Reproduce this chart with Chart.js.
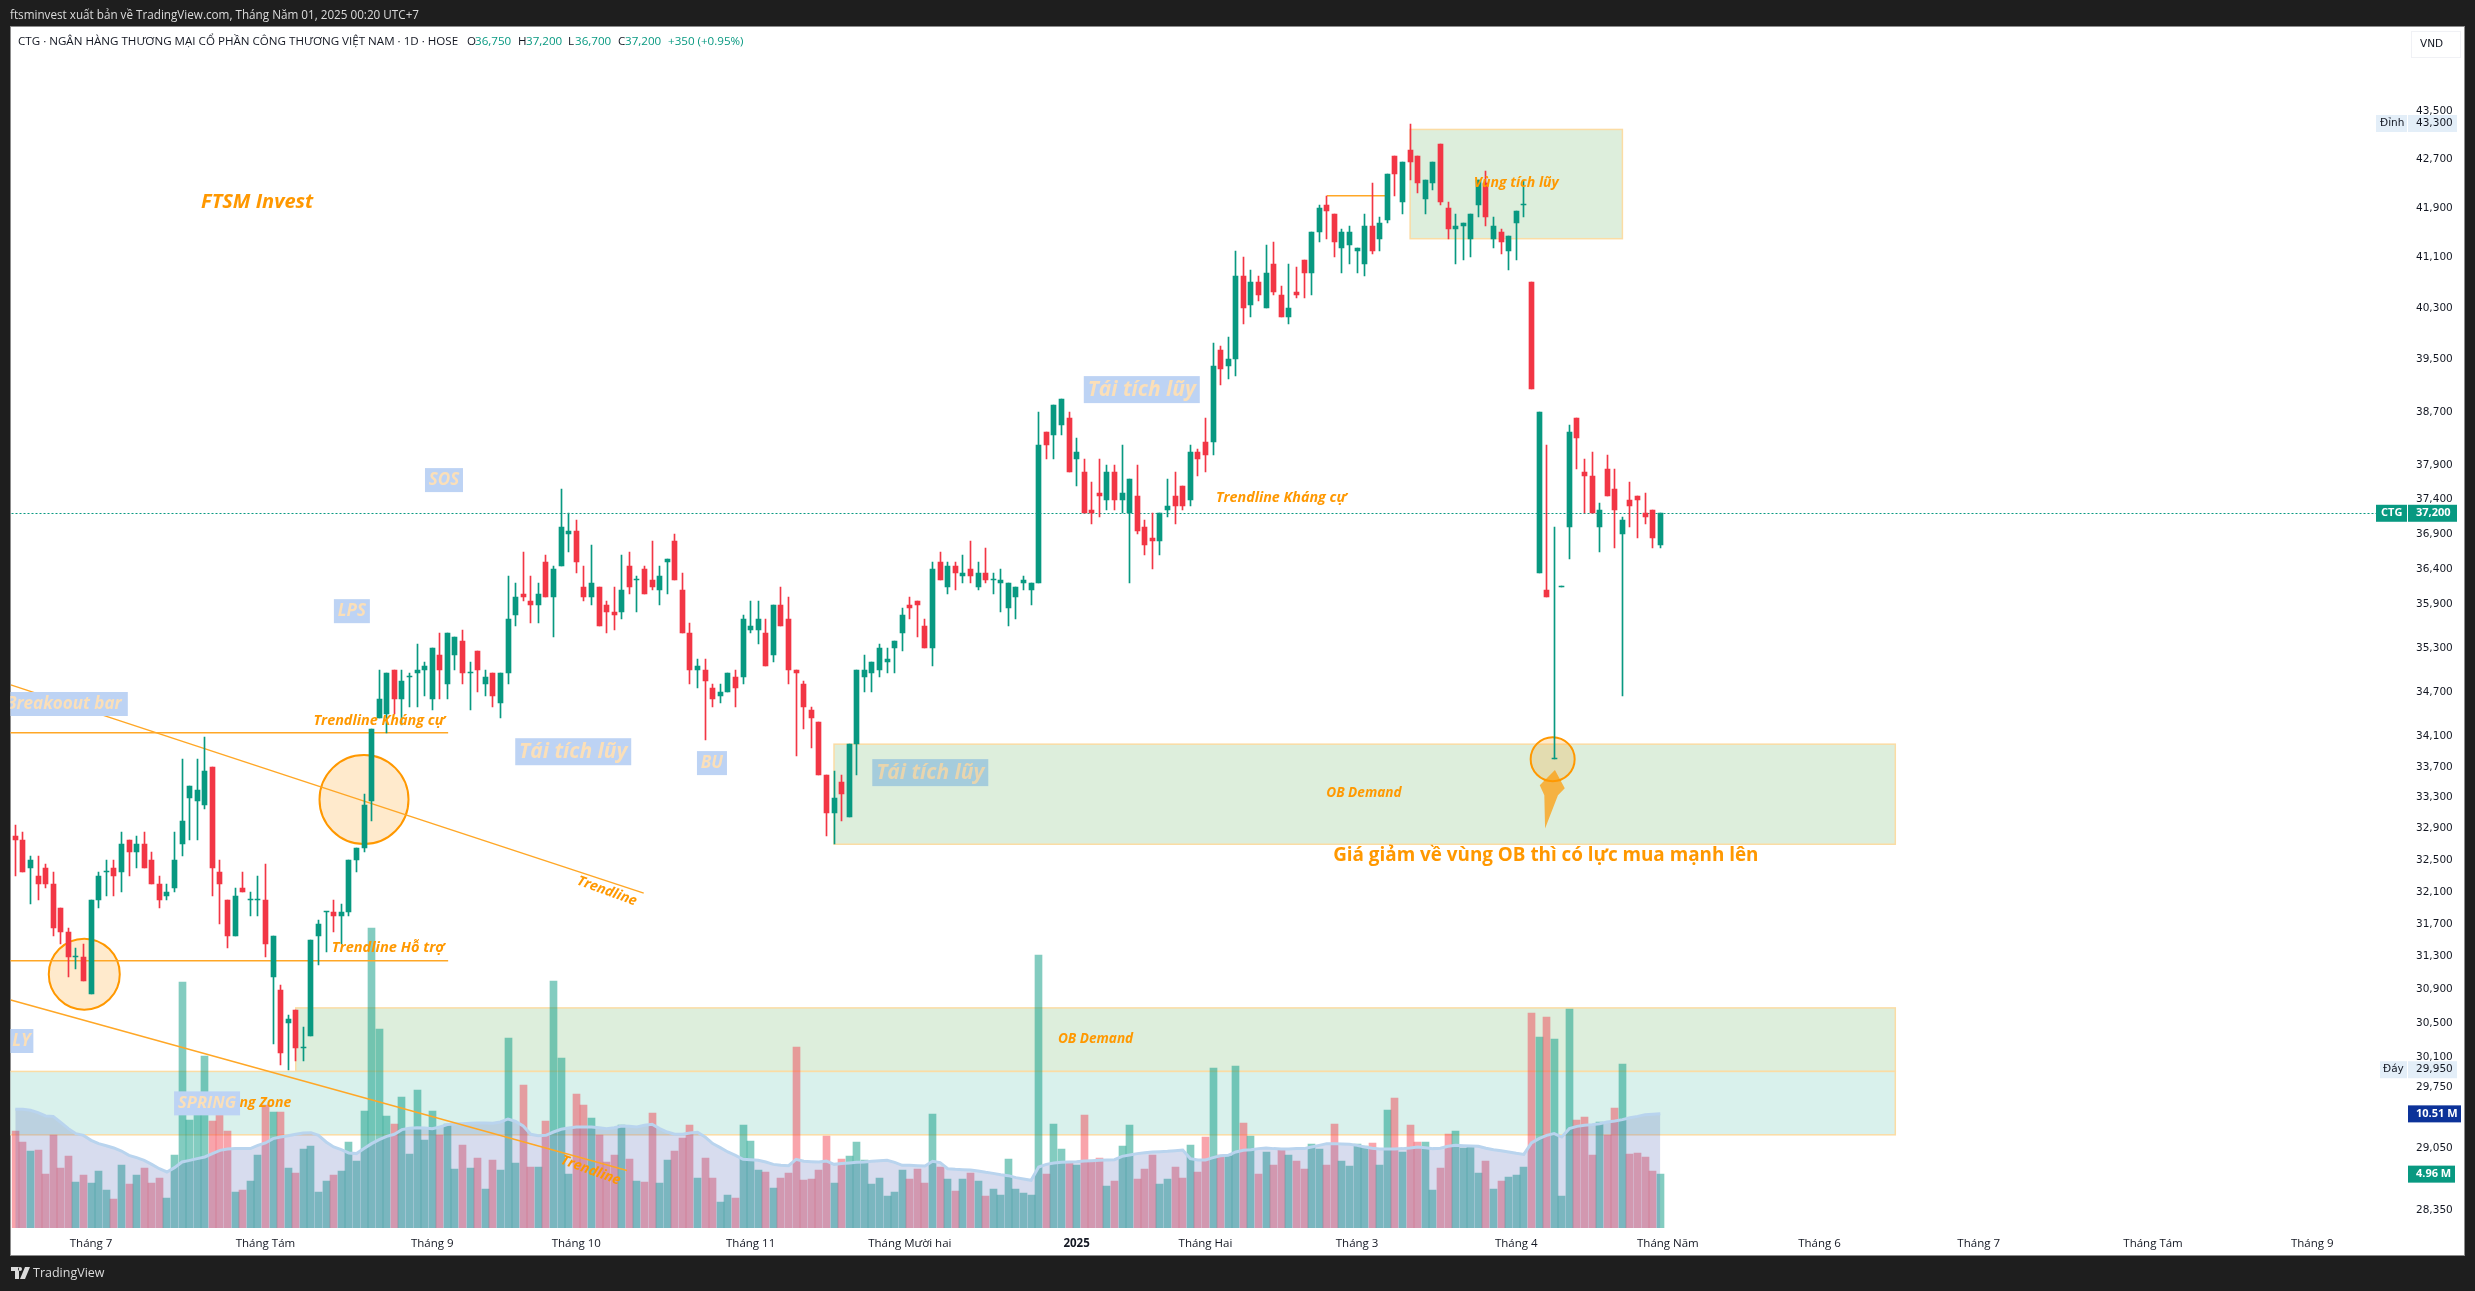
<!DOCTYPE html>
<html>
<head>
<meta charset="utf-8">
<title>CTG</title>
<script src="https://cdn.jsdelivr.net/npm/chart.js@4/dist/chart.umd.min.js"></script>
<style>
    html, body { margin: 0; padding: 0; background: #1e1e1e; width: 2475px; height: 1291px; overflow: hidden; }
    #panel { position: absolute; left: 10px; top: 26px; width: 2453px; height: 1228px; background: #fff; border: 1px solid #8c8c8c; }
    #chart { position: absolute; left: 0; top: 0; }
    .t { position: absolute; white-space: nowrap; font-family: "Open Sans", sans-serif; line-height: 16px; }
    .head { top: 33px; font-size: 11.6px; color: #131722; }
    .val { color: #089981; }
    #publish { left: 10px; top: 6px; font-size: 11.7px; color: #dbdbdb; }
    #brand { left: 33px; top: 1265px; font-size: 12.5px; color: #dbdbdb; }
    #logo { position: absolute; left: 11px; top: 1267px; }
</style>
</head>
<body>
<div id="panel"></div>
<canvas id="chart" width="2475" height="1291"></canvas>
<div class="t" id="publish">ftsminvest xuất bản về TradingView.com, Tháng Năm 01, 2025 00:20 UTC+7</div>
<div class="t head" style="left:18px">CTG · NGÂN HÀNG THƯƠNG MẠI CỔ PHẦN CÔNG THƯƠNG VIỆT NAM · 1D · HOSE</div>
<div class="t head" style="left:467px">O</div><div class="t head val" style="left:475px">36,750</div>
<div class="t head" style="left:518px">H</div><div class="t head val" style="left:526px">37,200</div>
<div class="t head" style="left:568px">L</div><div class="t head val" style="left:575px">36,700</div>
<div class="t head" style="left:618px">C</div><div class="t head val" style="left:625px">37,200</div>
<div class="t head val" style="left:668px">+350 (+0.95%)</div>
<svg id="logo" width="19" height="12" viewBox="0 0 19 12"><path fill="#dbdbdb" d="M0 0h8v12H4V4H0zM9 4a2 2 0 1 0 0-4 2 2 0 0 0 0 4zM14 0h5l-5 12H9z"/></svg>
<div class="t" id="brand">TradingView</div>
<script>
const opens = [
    32800,32750,32400,32300,32400,32200,31900,31600,31300,31300,
    30850,32000,32350,32400,32350,32750,32600,32700,32500,32200,
    32050,32150,32700,33300,33250,33200,33700,32350,32000,31550,
    32150,32000,32000,32000,31050,30900,30500,30650,30200,30350,
    31550,31850,31850,31800,31850,32500,32650,33250,34350,34400,
    35000,34600,34900,34950,35000,34600,35200,34800,35200,35400,
    34950,35250,34800,34950,34550,34950,35750,36050,35950,35900,
    36500,36000,36450,36900,36950,36150,36000,36150,35900,35800,
    35800,36450,36250,36400,36250,36100,36500,36800,36100,35500,
    35000,35000,34750,34650,34700,34900,34900,35550,35550,35500,
    35200,35900,35700,35000,34800,34450,34300,33600,33100,33500,
    33050,34000,34900,34950,35000,35100,35300,35500,35900,35950,
    35600,35300,36500,36150,36450,36300,36400,36150,36350,36250,
    36200,35850,36000,36200,36100,36200,38400,38350,38500,38600,
    38000,37800,37250,37500,37400,37800,37400,37200,37450,37000,
    36850,36800,37250,37450,37600,37400,38100,38250,38250,39650,
    39400,39500,40800,40350,40700,40300,41000,40500,40150,40550,
    41050,40850,41500,41950,41800,41250,41300,41200,41000,41600,
    41400,41700,42750,42000,42850,42750,42050,42300,42950,41900,
    41550,41600,41400,41950,42300,41400,41500,41200,41650,41950,
    40700,36350,36100,33800,36150,37000,38600,37800,37750,37000,
    37850,37550,36900,37400,37450,37200,37250,36750
];
const closes = [
    32750,32350,32500,32200,32200,31650,31600,31300,31300,31000,
    32000,32300,32350,32300,32700,32600,32700,32400,32200,32000,
    32100,32500,33000,33450,33400,33650,32400,32200,31550,32050,
    32100,32000,32000,31450,31550,30150,30550,30200,30200,31500,
    31700,31850,31800,31850,32500,32650,33200,34200,34600,34950,
    34600,34850,34900,35000,35050,35300,35000,35500,35450,34950,
    34950,35000,34900,34650,34950,35700,36000,36000,35900,36050,
    36000,36400,37000,36950,36500,36000,36200,35600,35800,35750,
    36100,36150,36250,36050,36150,36300,36550,36250,35500,35000,
    35050,34850,34600,34700,34950,34750,35700,35600,35700,35050,
    35900,35600,35000,34950,34500,34350,33600,33100,33300,33350,
    34000,35000,35000,35100,35300,35150,35400,35750,35850,35900,
    35300,36400,36250,36450,36350,36350,36300,36350,36250,36250,
    36250,36200,36150,36250,36200,38200,38200,38800,38900,37800,
    38100,37200,37200,37450,37800,37400,37500,37700,36950,36750,
    36800,37200,37300,37300,37300,38100,38000,38050,39400,39350,
    39500,40800,40300,40700,40500,40850,40550,40150,40300,40500,
    40850,41500,41900,41850,41350,41500,41500,41250,41600,41200,
    41650,42450,42450,42650,42650,42300,42350,42650,42000,41550,
    41600,41650,41800,42350,41750,41600,41350,41450,41850,41950,
    39050,38700,36000,33800,36150,38400,38300,37750,37200,37250,
    37450,37250,37100,37300,37400,37150,36850,37200
];
const highs = [
    32950,32850,32550,32550,32450,32350,31900,31650,31400,31450,
    32000,32350,32500,32500,32850,32750,32800,32850,32600,32300,
    32200,32850,33800,33450,33800,34100,33700,32500,32000,32150,
    32350,32100,32300,32450,31550,30950,30600,30650,30450,31500,
    31750,31850,32000,31950,32500,32650,33350,34200,35000,34950,
    35000,35000,34950,35350,35100,35300,35500,35500,35450,35550,
    35100,35250,35000,34950,34950,36300,36200,36650,36300,36200,
    36600,36450,37550,37200,37100,36450,36750,36150,35950,36150,
    36600,36650,36300,36450,36800,36450,36550,36900,36350,35650,
    35150,35150,34800,34800,34950,35000,35750,35950,35950,35700,
    35900,36150,36000,35000,34850,34500,34300,33600,33650,33600,
    34000,35000,35200,35100,35350,35300,35400,35850,36000,35950,
    35700,36500,36650,36500,36500,36600,36800,36500,36700,36350,
    36400,36200,36150,36300,36200,38700,38400,38800,38900,38700,
    38300,38000,37650,38000,37900,37900,38200,37700,37900,37100,
    37200,37200,37700,37800,37600,38200,38150,38600,39750,39700,
    39850,41200,41100,40900,40800,41300,41350,40650,41000,40950,
    41050,41500,41950,42100,41800,41550,41600,41250,41800,42300,
    41750,42450,42750,42650,43300,42750,42350,42650,42950,42000,
    41800,41650,41800,42350,42500,41750,41550,41450,41850,42350,
    40700,38700,38200,37000,36150,38500,38600,38000,38100,37350,
    38050,37850,37150,37650,37450,37500,37250,37200
];
const lows = [
    32300,32350,31950,32000,32150,31550,31450,31050,31150,31000,
    30850,31900,32050,32050,32100,32300,32400,32400,32200,31900,
    32000,32100,32550,32750,32750,33150,32050,31700,31400,31550,
    32100,31800,31800,31300,30250,30000,29950,30050,30050,30350,
    31200,31350,31600,31450,31800,32350,32600,33000,34350,34150,
    34400,34250,34500,34500,34650,34450,34600,34600,35000,34800,
    34450,34700,34650,34500,34350,34800,35600,35950,35650,35650,
    36000,35450,36450,36650,36350,35950,35900,35600,35500,35550,
    35700,36050,35800,36050,36100,35900,36050,36250,35500,34800,
    34750,34050,34500,34550,34700,34500,34800,35500,35350,35050,
    35100,35600,34800,33850,34200,33950,33600,32800,32700,33000,
    33050,33600,34700,34700,34900,34950,34950,35250,35700,35450,
    35300,35050,36250,36050,36100,36200,36200,36100,36200,36050,
    35800,35600,35700,36100,35900,36200,38000,38000,38350,37800,
    37600,37200,37050,37150,37250,37250,37200,36200,36900,36600,
    36400,36600,37150,37050,37250,37300,37750,37800,38050,39100,
    39200,39250,40050,40150,40400,40300,40500,40150,40050,40450,
    40450,40500,41350,41400,41100,40850,41000,40850,40800,41150,
    41200,41650,42100,41800,42350,42150,41800,42200,41950,41400,
    41000,41050,41100,41750,41600,41250,41150,40900,41050,41750,
    39050,36350,36000,33800,36150,36550,37850,37200,37200,36650,
    37450,36700,34650,37000,36850,37050,36700,36700
];
// volume, millions
const volumes = [
    8.90,7.89,7.06,7.15,4.94,8.57,5.50,6.60,4.21,4.85,
    4.11,5.22,3.47,2.64,5.77,4.02,4.85,5.50,4.11,4.57,
    2.73,6.69,22.63,9.92,10.38,15.81,9.82,10.38,8.90,3.28,
    3.47,4.30,6.69,11.30,10.65,10.65,5.50,5.03,7.25,7.52,
    3.28,4.30,4.85,5.22,7.89,6.14,10.75,27.60,18.30,10.28,
    9.55,12.03,6.78,12.68,8.07,10.75,8.53,9.55,5.40,7.61,
    5.50,6.42,3.56,6.23,5.31,17.47,5.96,13.14,5.59,5.59,
    9.82,22.72,15.63,4.94,12.31,11.30,10.10,8.53,6.08,6.69,
    9.46,6.32,4.30,4.21,10.56,4.11,6.23,7.06,8.26,9.46,
    4.57,6.42,4.57,2.36,3.01,2.73,9.46,7.98,5.31,5.13,
    3.65,4.57,5.03,16.64,4.39,4.48,5.31,8.44,4.11,6.32,
    6.60,7.89,6.23,4.02,4.57,2.92,3.28,5.31,4.48,5.40,
    4.11,10.47,5.59,4.48,3.38,4.48,5.03,4.30,2.92,3.56,
    3.01,6.32,3.56,3.19,3.01,25.11,4.94,9.55,7.25,6.05,
    5.77,10.38,6.05,6.42,3.84,4.30,7.52,9.46,4.48,5.40,
    6.69,4.02,4.48,5.59,4.57,7.61,5.13,8.35,14.71,6.69,
    6.60,14.89,9.64,8.44,4.94,6.97,5.77,7.15,6.69,6.14,
    5.40,7.71,7.25,5.77,9.55,6.14,5.68,7.71,7.52,7.80,
    5.77,10.84,11.94,6.97,9.46,7.89,7.89,3.47,5.50,8.63,
    8.90,7.34,7.52,5.03,6.14,3.56,4.30,4.67,4.85,5.59,
    19.77,17.56,19.40,17.38,2.92,20.14,9.92,10.19,6.69,9.73,
    8.60,11.02,15.07,6.78,6.88,6.51,5.22,4.96
];
const volumeAverage = [
    10.93,10.93,10.84,10.62,10.32,10.28,9.73,9.15,8.69,8.53,
    8.07,7.77,7.58,7.37,7.09,6.69,6.48,6.23,5.86,5.46,
    5.16,5.56,6.08,6.23,6.39,6.54,6.85,7.15,7.28,7.31,
    7.31,7.31,7.61,7.83,8.23,8.38,8.50,8.63,8.75,8.78,
    8.53,7.92,7.46,7.21,6.91,6.85,7.31,7.77,8.14,8.44,
    8.63,9.06,9.18,9.24,9.21,9.15,9.30,9.52,9.58,9.61,
    9.64,9.67,9.67,9.64,9.76,10.04,9.82,9.39,8.63,8.50,
    8.53,8.84,9.09,9.21,9.30,9.30,9.30,9.24,9.15,9.24,
    9.39,9.36,9.30,9.46,9.55,9.15,8.84,8.63,8.63,8.75,
    8.81,8.38,7.77,7.40,7.00,6.69,6.32,6.29,6.23,6.08,
    5.86,5.77,5.74,6.32,6.14,6.11,6.08,6.17,5.86,5.93,
    5.99,6.05,6.08,6.14,6.20,6.23,6.05,5.77,5.77,5.74,
    5.71,6.14,6.02,5.46,5.40,5.37,5.34,5.25,5.13,5.03,
    4.91,4.82,4.64,4.51,4.39,5.62,5.86,5.99,6.05,6.08,
    6.11,6.17,6.20,6.23,6.26,6.29,6.60,6.72,6.85,6.94,
    7.00,7.03,7.06,7.12,7.18,6.39,6.26,6.26,6.48,6.66,
    6.69,7.00,7.15,7.21,7.31,7.37,7.31,7.28,7.28,7.31,
    7.31,7.46,7.61,7.77,7.77,7.74,7.71,7.61,7.46,7.34,
    7.28,7.28,7.28,7.31,7.37,7.46,7.40,7.31,7.34,7.52,
    7.61,7.58,7.55,7.52,7.34,7.21,7.12,7.00,6.88,6.78,
    7.83,8.23,8.53,8.69,8.38,9.15,9.36,9.46,9.52,9.61,
    9.76,9.85,9.98,10.16,10.28,10.44,10.47,10.51
];
const monthLabels = ['Tháng 7', 'Tháng Tám', 'Tháng 9', 'Tháng 10', 'Tháng 11', 'Tháng Mười hai', '2025', 'Tháng Hai', 'Tháng 3', 'Tháng 4', 'Tháng Năm', 'Tháng 6', 'Tháng 7', 'Tháng Tám', 'Tháng 9'];
const monthBars = [10, 33, 55, 74, 97, 118, 140, 157, 177, 198, 218, 238, 259, 282, 303];
const priceTicks = [43500, 42700, 41900, 41100, 40300, 39500, 38700, 37900, 37400, 36900, 36400, 35900, 35300, 34700, 34100, 33700, 33300, 32900, 32500, 32100, 31700, 31300, 30900, 30500, 30100, 29750, 29050, 28350];
const slotCount = 316;

const GREEN = '#089981';
const RED = '#f23645';
const ORANGE = '#ff9800';

const categories = [];
for (let i = 0; i < slotCount; i++) {
    const m = monthBars.indexOf(i);
    categories.push(m >= 0 ? monthLabels[m] : '');
}
const up = closes.map((c, i) => c >= opens[i]);

// drawings on the chart, in bar index and price
const zones = [
    { x0: 108, x1: 248, p0: 34000, p1: 32700, fill: '#ddeedc' },
    { x0: 184, x1: 212, p0: 43200, p1: 41400, fill: '#ddeedc' },
    { x0: 37, x1: 248, p0: 30680, p1: 29930, fill: '#ddeedc' },
    { x0: -2, x1: 248, p0: 29930, p1: 29200, fill: '#d9f1ec' }
];
const lines = [
    [-0.6, 34794, 82.9, 32083],
    [-0.6, 30775, 80.7, 28797],
    [-1, 34150, 57.1, 34150],
    [-1, 31250, 57.1, 31250],
    [173, 42100, 180.7, 42100]
];
const circles = [[9.1, 31086, 35.5], [46, 33274, 44.5], [202.8, 33802, 22]];
const arrow = [[203.1, 33658], [204.4, 33422], [203.5, 33330], [201.8, 32900], [201.7, 33330], [201.1, 33461]];
const boxLabels = [
    { t: 'SOS', x: 56.55, p: 37684, w: 38, h: 24, size: 17 },
    { t: 'LPS', x: 44.4, p: 35808, w: 36, h: 24, size: 17 },
    { t: 'Breakoout bar', x: 6.4, p: 34536, w: 128, h: 24, size: 17 },
    { t: 'Tái tích lũy', x: 73.6, p: 33900, w: 116, h: 27, size: 21 },
    { t: 'BU', x: 91.9, p: 33750, w: 30, h: 24, size: 17 },
    { t: 'Tái tích lũy', x: 120.7, p: 33625, w: 116, h: 27, size: 21, faded: true },
    { t: 'Tái tích lũy', x: 148.6, p: 39036, w: 116, h: 27, size: 21 },
    { t: 'LY', x: 0.8, p: 30287, w: 24, h: 24, size: 17 },
    { t: 'SPRING', x: 25.3, p: 29560, w: 66, h: 24, size: 16.5 }
];
const notes = [
    { t: 'FTSM Invest', x: 31.9, p: 41990, size: 20 },
    { t: 'Spring Zone', x: 36.4, p: 29560, size: 14, align: 'right' },
    { t: 'Trendline Kháng cự', x: 48, p: 34309, size: 14.4 },
    { t: 'Trendline', x: 78.05, p: 32108, size: 14, angle: 20 },
    { t: 'Trendline Hỗ trợ', x: 49.2, p: 31405, size: 14.6 },
    { t: 'Trendline', x: 75.9, p: 28797, size: 14, angle: 20 },
    { t: 'OB Demand', x: 177.9, p: 33357, size: 13.6 },
    { t: 'OB Demand', x: 142.5, p: 30311, size: 13.6 },
    { t: 'Vùng tích lũy', x: 198, p: 42312, size: 14 },
    { t: 'Trendline Kháng cự', x: 167, p: 37419, size: 14.3 },
    { t: 'Giá giảm về vùng OB thì có lực mua mạnh lên', x: 201.9, p: 32549, size: 18.85, italic: false }
];

const drawings = {
    id: 'drawings',
    // snap bars to whole pixels so bodies and wicks stay crisp
    afterDatasetsUpdate(chart) {
        chart.data.datasets.forEach((ds, i) => {
            if (ds.type === 'line') return;
            chart.getDatasetMeta(i).data.forEach(el => {
                el.x = Math.round(el.x - 0.5) + 0.5;
                el.y = Math.round(el.y);
                el.base = Math.round(el.base);
                if (el.y === el.base) el.base = el.y + 1;
            });
        });
    },
    beforeDatasetsDraw(chart) {
        const { ctx, chartArea: a, scales: { x, y } } = chart;
        ctx.save();
        ctx.beginPath();
        ctx.rect(a.left - 1, a.top, a.width + 1, a.height);
        ctx.clip();
        zones.forEach(z => {
            const l = x.getPixelForValue(z.x0), r = x.getPixelForValue(z.x1);
            const t = y.getPixelForValue(z.p0), b = y.getPixelForValue(z.p1);
            ctx.fillStyle = z.fill;
            ctx.fillRect(l, t, r - l, b - t);
            ctx.strokeStyle = '#fbdca4';
            ctx.lineWidth = 1.5;
            ctx.strokeRect(l, t, r - l, b - t);
        });
        ctx.restore();
    },
    beforeDatasetDraw(chart, args) {
        if (args.index !== 2) return;
        const { ctx, chartArea: a, scales: { x, y } } = chart;
        ctx.save();
        ctx.beginPath();
        ctx.rect(a.left - 1, a.top, a.width + 1, a.height);
        ctx.clip();
        // last price line
        ctx.strokeStyle = GREEN;
        ctx.lineWidth = 1;
        ctx.setLineDash([2, 2]);
        const py = Math.round(y.getPixelForValue(closes[closes.length - 1])) + 0.5;
        ctx.beginPath();
        ctx.moveTo(a.left, py);
        ctx.lineTo(a.right, py);
        ctx.stroke();
        ctx.setLineDash([]);
        circles.forEach(c => {
            ctx.beginPath();
            ctx.arc(x.getPixelForValue(c[0]), y.getPixelForValue(c[1]), c[2], 0, Math.PI * 2);
            ctx.fillStyle = 'rgba(255,152,0,0.2)';
            ctx.fill();
            ctx.strokeStyle = ORANGE;
            ctx.lineWidth = 2;
            ctx.stroke();
        });
        ctx.strokeStyle = '#ffa726';
        ctx.lineWidth = 1.5;
        lines.forEach(l => {
            ctx.beginPath();
            ctx.moveTo(x.getPixelForValue(l[0]), y.getPixelForValue(l[1]));
            ctx.lineTo(x.getPixelForValue(l[2]), y.getPixelForValue(l[3]));
            ctx.stroke();
        });
        ctx.beginPath();
        arrow.forEach((pt, i) => {
            const px = x.getPixelForValue(pt[0]), ppy = y.getPixelForValue(pt[1]);
            if (i === 0) ctx.moveTo(px, ppy); else ctx.lineTo(px, ppy);
        });
        ctx.closePath();
        ctx.fillStyle = 'rgba(255,152,0,0.7)';
        ctx.fill();
        ctx.restore();
    },
    afterDatasetsDraw(chart) {
        const { ctx, chartArea: a, scales: { x, y, vol } } = chart;
        ctx.save();
        ctx.beginPath();
        ctx.rect(a.left - 1, a.top, a.width + 1, a.height);
        ctx.clip();
        ctx.textBaseline = 'middle';
        notes.forEach(n => {
            const italic = n.italic === false ? '' : 'italic ';
            ctx.font = italic + 'bold ' + n.size + 'px "Open Sans"';
            ctx.fillStyle = ORANGE;
            ctx.textAlign = n.align || 'center';
            ctx.save();
            ctx.translate(x.getPixelForValue(n.x), y.getPixelForValue(n.p));
            if (n.angle) ctx.rotate(n.angle * Math.PI / 180);
            ctx.fillText(n.t, 0, 0);
            ctx.restore();
        });
        boxLabels.forEach(b => {
            const cx = x.getPixelForValue(b.x), cy = y.getPixelForValue(b.p);
            ctx.fillStyle = b.faded ? '#a5ccdc' : '#bdd3f4';
            ctx.fillRect(cx - b.w / 2, cy - b.h / 2, b.w, b.h);
            ctx.font = 'italic bold ' + b.size + 'px "Open Sans"';
            ctx.fillStyle = b.faded ? '#e8d5ae' : '#fbdfb8';
            ctx.textAlign = 'center';
            ctx.fillText(b.t, cx, cy);
        });
        ctx.restore();

        // tags on the price scale
        const tag = (l, r, cy, h, bg, fg, text, bold, tx) => {
            ctx.fillStyle = bg;
            ctx.fillRect(l, cy - h / 2, r - l, h);
            ctx.font = bold ? 'bold 11px "Open Sans"' : '10.5px "DejaVu Sans"';
            ctx.fillStyle = fg;
            ctx.textAlign = 'left';
            ctx.textBaseline = 'middle';
            ctx.fillText(text, tx, cy);
        };
        const lastClose = closes[closes.length - 1];
        const hi = y.getPixelForValue(Math.max(...highs));
        const lo = y.getPixelForValue(Math.min(...lows));
        const px = y.getPixelForValue(lastClose);
        tag(2376, 2407, hi, 17, '#e3eef8', '#131722', 'Đỉnh', false, 2380);
        tag(2408, 2457, hi, 17, '#e3eef8', '#131722', Math.max(...highs).toLocaleString('en-US'), false, 2416);
        tag(2380, 2407, lo, 17, '#e3eef8', '#131722', 'Đáy', false, 2383);
        tag(2408, 2457, lo, 17, '#e3eef8', '#131722', Math.min(...lows).toLocaleString('en-US'), false, 2416);
        tag(2376, 2407, px, 17, GREEN, '#fff', 'CTG', true, 2381);
        tag(2408, 2457, px, 17, GREEN, '#fff', lastClose.toLocaleString('en-US'), true, 2416);
        const avg = volumeAverage[volumeAverage.length - 1];
        const last = volumes[volumes.length - 1];
        tag(2408, 2461, vol.getPixelForValue(avg), 17, '#0c3299', '#fff', avg.toFixed(2) + ' M', true, 2416);
        tag(2408, 2455, vol.getPixelForValue(last), 17, GREEN, '#fff', last.toFixed(2) + ' M', true, 2416);

        // currency box
        ctx.strokeStyle = '#e0e3eb';
        ctx.lineWidth = 1;
        ctx.setLineDash([1, 1]);
        ctx.strokeRect(2411.5, 31.5, 49, 26);
        ctx.setLineDash([]);
        ctx.font = '10.5px "DejaVu Sans"';
        ctx.fillStyle = '#131722';
        ctx.textAlign = 'left';
        ctx.fillText('VND', 2420, 44.5);
    }
};

new Chart(document.getElementById('chart').getContext('2d'), {
    type: 'bar',
    data: {
        labels: categories,
        datasets: [
            {
                label: 'Volume', data: volumes, yAxisID: 'vol', order: 4, grouped: false,
                barThickness: 7, borderWidth: 0,
                backgroundColor: up.map(u => u ? 'rgba(8,153,129,0.5)' : 'rgba(242,54,69,0.45)')
            },
            {
                type: 'line', label: 'Volume MA', data: volumeAverage, yAxisID: 'vol', order: 3,
                borderColor: '#b9d4ee', borderWidth: 3, pointRadius: 0, tension: 0,
                fill: 'origin', backgroundColor: 'rgba(101,120,190,0.26)'
            },
            {
                label: 'Wick', data: lows.map((l, i) => [l, highs[i]]), yAxisID: 'y', order: 2, grouped: false,
                barThickness: 1, minBarLength: 1, borderWidth: 0,
                backgroundColor: up.map(u => u ? GREEN : RED)
            },
            {
                label: 'Body', data: opens.map((o, i) => [o, closes[i]]), yAxisID: 'y', order: 1, grouped: false,
                barThickness: 5, minBarLength: 1, borderWidth: 0,
                backgroundColor: up.map(u => u ? GREEN : RED)
            }
        ]
    },
    options: {
        responsive: false,
        animation: false,
        devicePixelRatio: 1,
        layout: { padding: { left: 11.5, top: 27, right: 11, bottom: 36 } },
        plugins: { legend: { display: false }, tooltip: { enabled: false } },
        scales: {
            x: {
                grid: { display: false },
                border: { display: false },
                afterFit: s => { s.height = 27; },
                afterBuildTicks: s => { s.ticks = s.ticks.filter(t => categories[t.value] !== ''); },
                ticks: {
                    autoSkip: false, maxRotation: 0, padding: 1, color: '#131722',
                    callback: v => categories[v],
                    font: c => ({ family: '"Open Sans"', size: 11.5, weight: c.tick && c.tick.label === '2025' ? 'bold' : 'normal' })
                }
            },
            y: {
                type: 'logarithmic',
                position: 'right',
                min: 28159,
                max: 44959,
                bounds: 'data',
                grid: { display: false, drawTicks: false },
                border: { display: false },
                afterFit: s => { s.width = 57; },
                afterBuildTicks: s => { s.ticks = priceTicks.map(v => ({ value: v })); },
                ticks: {
                    autoSkip: false, padding: 9, color: '#131722',
                    font: { family: '"DejaVu Sans"', size: 10.5 },
                    callback: v => Number(v).toLocaleString('en-US')
                }
            },
            vol: { display: false, position: 'right', min: 0, max: 110.6 }
        }
    },
    plugins: [drawings]
});
</script>
</body>
</html>
